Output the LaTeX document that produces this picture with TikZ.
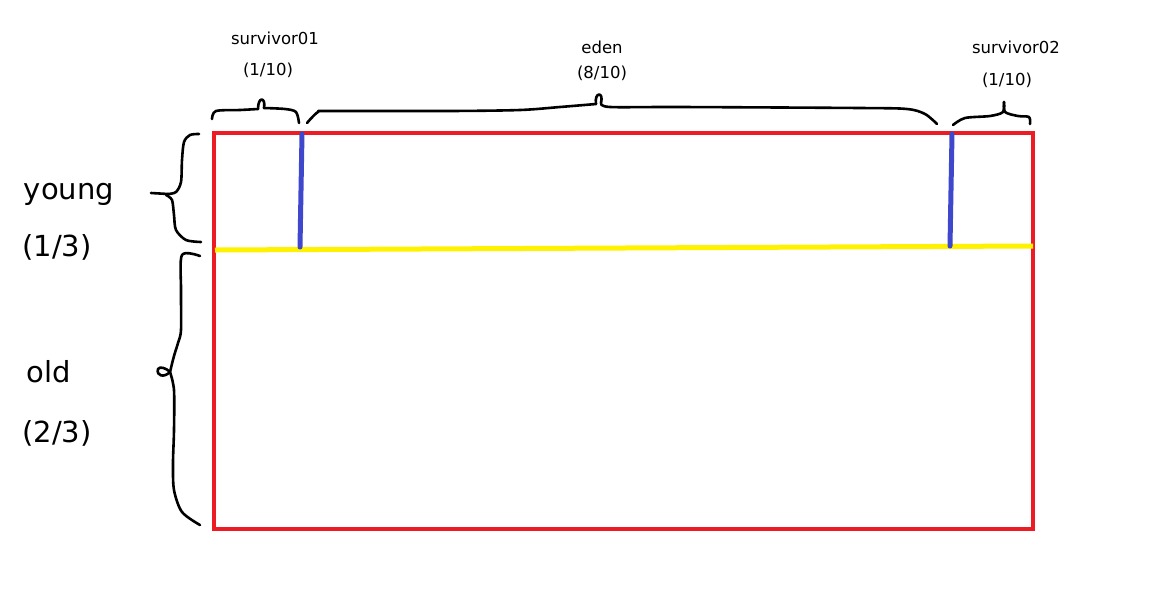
\documentclass[tikz,border=0pt]{standalone}
\usepackage{fontspec}
\setmainfont{DejaVu Sans}
\begin{document}
\begin{tikzpicture}[x=1pt,y=-1pt,
  small/.style={font=\fontsize{16.5}{20}\selectfont, inner sep=0pt},
  big/.style={font=\fontsize{29}{33}\selectfont, inner sep=0pt},
  brace/.style={black, line width=2.6pt, line cap=round, line join=round},
  redbox/.style={draw={rgb,255:red,237;green,28;blue,36}, line width=4.5pt},
  blueline/.style={draw={rgb,255:red,63;green,72;blue,204}, line width=5pt, line cap=round},
  yellowline/.style={draw={rgb,255:red,255;green,242;blue,0}, line width=5pt}]
\useasboundingbox (0,0) rectangle (1165,598);
% labels
\node[small] (s1) at (275,38) {survivor01};
\node[small] (s1f) at (268,70) {(1/10)};
\node[small] (ed) at (602,47) {eden};
\node[small] (edf) at (602,73) {(8/10)};
\node[small] (s2) at (1016,47) {survivor02};
\node[small] (s2f) at (1007,80) {(1/10)};
\node[big] (yg) at (69,194) {young};
\node[big] (ygf) at (57,247) {(1/3)};
\node[big] (od) at (49,372) {old};
\node[big] (odf) at (57,433) {(2/3)};
% box
\coordinate (tl) at (214,133);
\coordinate (br) at (1033,529);
\draw[redbox] (tl) rectangle (br);
\coordinate (yl) at (215,250);
\coordinate (yr) at (1033,246);
\draw[yellowline] (yl) -- (yr);
\coordinate (b1t) at (302,134);
\coordinate (b1b) at (300,247);
\coordinate (b2t) at (952,134);
\coordinate (b2b) at (950,246);
\draw[blueline] (b1t) -- (b1b);
\draw[blueline] (b2t) -- (b2b);
% top braces
\draw[brace] plot[smooth, tension=0.5] coordinates {(212,119) (216,111) (240,110) (258,109)};
\draw[brace] (258,109) .. controls (258,96) and (266,97) .. (264,108);
\draw[brace] plot[smooth, tension=0.5] coordinates {(264,108) (285,109) (296,112) (299,123)};
\draw[brace] plot[smooth, tension=0.5] coordinates {(307,123) (318,112) (330,111) (450,111) (520,110) (560,107) (596,104)};
\draw[brace] (596,104) .. controls (594,92) and (604,91) .. (601,103);
\draw[brace] plot[smooth, tension=0.5] coordinates {(601,103) (610,107) (680,107) (860,108) (907,109) (925,114) (937,124)};
\draw[brace] plot[smooth, tension=0.5] coordinates {(953,125) (965,118) (990,116) (1003,112) (1004,102)};
\draw[brace] plot[smooth, tension=0.5] coordinates {(1004,102) (1005,112) (1018,116) (1029,117) (1030,124)};
% left braces
\draw[brace] plot[smooth, tension=0.5] coordinates {(199,134) (190,135) (184,142) (182,160) (181,182) (176,192) (168,194)};
\draw[brace] (168,194) -- (151,193);
\draw[brace] plot[smooth, tension=0.5] coordinates {(166,195) (172,200) (174,215) (176,230) (186,240) (201,242)};
\draw[brace] plot[smooth, tension=0.5] coordinates {(200,256) (182,255) (181,290) (181,330) (178,343) (174,356) (170,372)};
\draw[brace] (170,372) .. controls (164,378) and (156,376) .. (158,369) .. controls (160,366) and (166,368) .. (170,372);
\draw[brace] plot[smooth, tension=0.5] coordinates {(170,372) (174,390) (174,430) (173,463) (174,490) (182,512) (200,525)};
\end{tikzpicture}
\end{document}
